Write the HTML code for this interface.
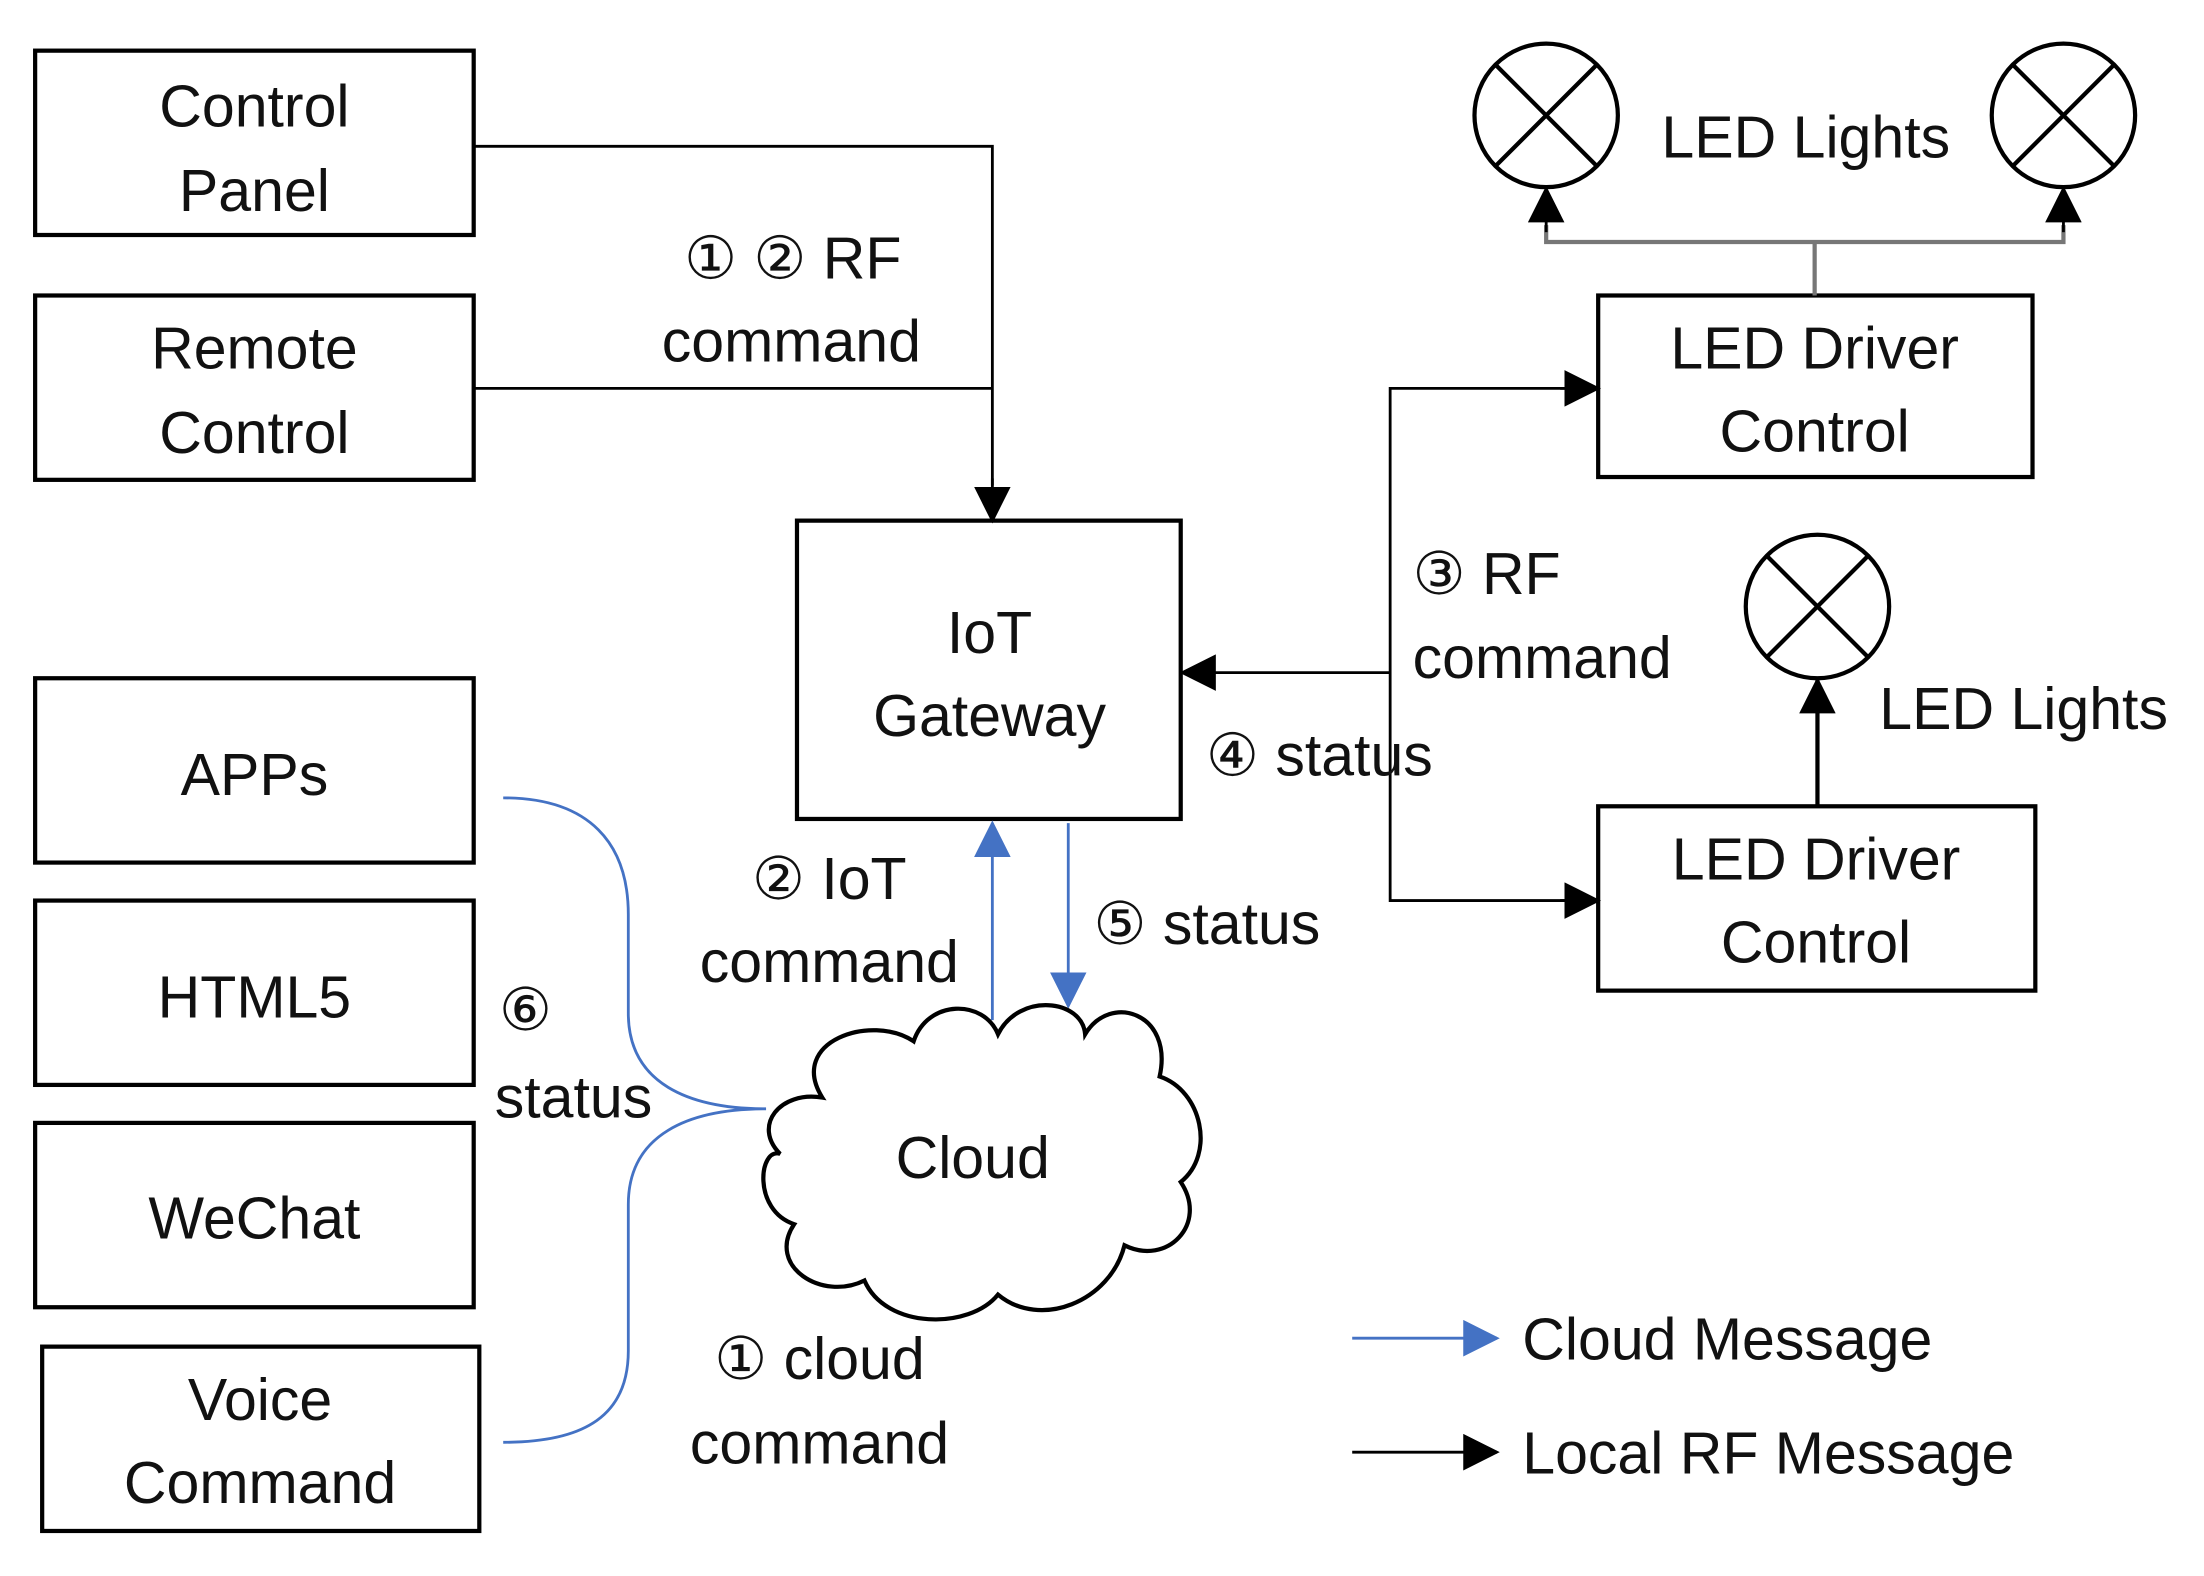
<!DOCTYPE html>
<html><head><meta charset="utf-8"><style>
html,body{margin:0;padding:0;background:#fff;}
svg{display:block;}
text{font-family:"Liberation Sans","DejaVu Sans",sans-serif;font-size:42px;fill:#111;}
</style></head><body>
<svg width="2204" height="1576" viewBox="0 0 1568 1120" preserveAspectRatio="none" xmlns="http://www.w3.org/2000/svg">
<defs>
<marker id="akb" markerWidth="26" markerHeight="26" refX="24" refY="13" orient="auto" markerUnits="userSpaceOnUse" viewBox="0 0 26 26"><path d="M0,0 L26,13 L0,26 z" fill="#000"/></marker>
<marker id="ab" markerWidth="26" markerHeight="26" refX="24" refY="13" orient="auto" markerUnits="userSpaceOnUse" viewBox="0 0 26 26"><path d="M0,0 L26,13 L0,26 z" fill="#4472c4"/></marker>
</defs>
<g fill="none" stroke="#000" stroke-width="3">
<rect x="25" y="36" width="312" height="131"/>
<rect x="25" y="210" width="312" height="131"/>
<rect x="25" y="482" width="312" height="131"/>
<rect x="25" y="640" width="312" height="131"/>
<rect x="25" y="798" width="312" height="131"/>
<rect x="30" y="957" width="311" height="131"/>
<rect x="567" y="370" width="273" height="212"/>
<rect x="1137" y="210" width="309" height="129"/>
<rect x="1137" y="573" width="311" height="131"/>
<circle cx="1100" cy="82" r="51"/><path d="M1064,46 L1136,118 M1136,46 L1064,118"/>
<circle cx="1468" cy="82" r="51"/><path d="M1432,46 L1504,118 M1504,46 L1432,118"/>
<circle cx="1293" cy="431" r="51"/><path d="M1257,395 L1329,467 M1329,395 L1257,467"/>
</g>
<g fill="none" stroke="#000" stroke-width="2">
<path d="M337,104 H706 V345"/>
<path d="M337,276 H706"/>
<line x1="706" y1="340" x2="706" y2="370" marker-end="url(#akb)"/>
<path d="M1113,276 H989 V640 H1113"/>
<line x1="1110" y1="276" x2="1137" y2="276" marker-end="url(#akb)"/>
<line x1="1110" y1="640" x2="1137" y2="640" marker-end="url(#akb)"/>
<line x1="989" y1="478" x2="841" y2="478" marker-end="url(#akb)"/>
<line x1="1293" y1="573" x2="1293" y2="483" stroke-width="3" marker-end="url(#akb)"/>
</g>
<g fill="none" stroke="#777" stroke-width="3">
<path d="M1100,160 V172 H1468 V160 M1291,172 V210"/>
</g>
<line x1="1100" y1="165" x2="1100" y2="134" stroke="#000" stroke-width="2" marker-end="url(#akb)"/>
<line x1="1468" y1="165" x2="1468" y2="134" stroke="#000" stroke-width="2" marker-end="url(#akb)"/>
<g fill="none" stroke="#4472c4" stroke-width="2">
<line x1="706" y1="725" x2="706" y2="585" marker-end="url(#ab)"/>
<line x1="760" y1="585" x2="760" y2="715" marker-end="url(#ab)"/>
<path d="M358,567 C420,567 447,600 447,650 V720 C447,770 490,788 545,788 C490,788 447,806 447,856 V960 C447,1010 410,1025 358,1025"/>
<line x1="962" y1="951" x2="1065" y2="951" marker-end="url(#ab)"/>
</g>
<line x1="962" y1="1032" x2="1065" y2="1032" stroke="#000" stroke-width="2" marker-end="url(#akb)"/>
<path fill="#fff" stroke="#000" stroke-width="3" d="M585,780 C560,740 620,720 650,740 C660,710 700,710 710,735 C725,705 770,710 772,735 C790,705 835,720 825,765 C855,775 865,820 840,840 C860,870 830,900 800,885 C790,925 740,945 710,920 C690,945 630,945 615,910 C585,925 545,900 565,870 C535,860 540,815 555,820 C535,800 555,775 585,780 Z"/>
<g text-anchor="middle">
<text x="181" y="90">Control</text><text x="181" y="150">Panel</text>
<text x="181" y="262">Remote</text><text x="181" y="322">Control</text>
<text x="181" y="565">APPs</text>
<text x="181" y="723">HTML5</text>
<text x="181" y="880">WeChat</text>
<text x="185" y="1009">Voice</text><text x="185" y="1068">Command</text>
<text x="704" y="464">IoT</text><text x="704" y="523">Gateway</text>
<text x="1291" y="262">LED Driver</text><text x="1291" y="321">Control</text>
<text x="1292" y="625">LED Driver</text><text x="1292" y="684">Control</text>
<text x="692" y="837">Cloud</text>
<text x="564" y="198">① ② RF</text><text x="563" y="257">command</text>
<text x="590" y="639">② IoT</text><text x="590" y="698">command</text>
<text x="583" y="980">① cloud</text><text x="583" y="1040">command</text>
</g>
<text x="1182" y="112">LED Lights</text>
<text x="1337" y="518">LED Lights</text>
<text x="1005" y="422">③ RF</text>
<text x="1005" y="482">command</text>
<text x="858" y="551">④ status</text>
<text x="778" y="671">⑤ status</text>
<text x="355" y="732">⑥</text>
<text x="352" y="794">status</text>
<text x="1083" y="966">Cloud Message</text>
<text x="1083" y="1047">Local RF Message</text>
</svg>
</body></html>
